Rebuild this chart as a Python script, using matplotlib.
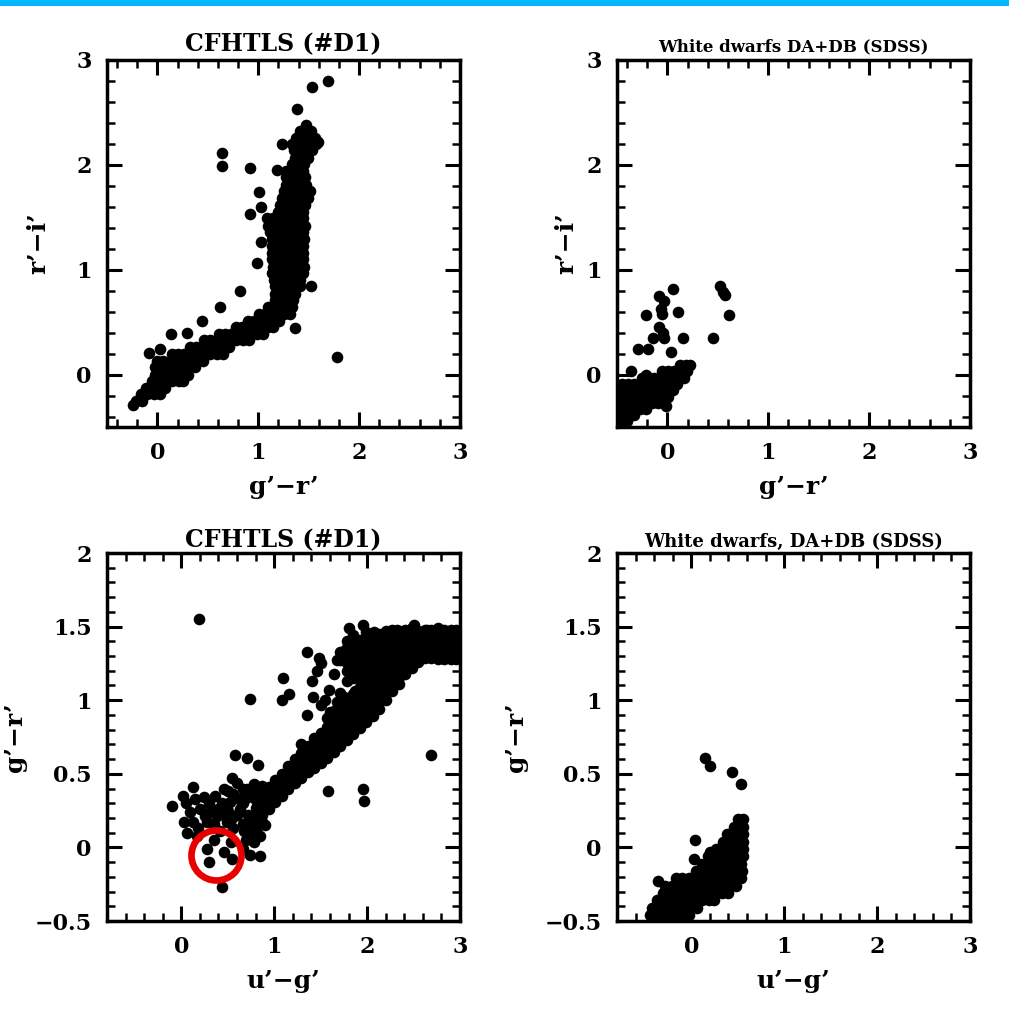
import matplotlib
matplotlib.use("Agg")
import matplotlib.pyplot as plt
from matplotlib.patches import Rectangle
from matplotlib.ticker import FixedLocator, FixedFormatter, MultipleLocator

plt.rcParams['font.family'] = ['DejaVu Serif', 'DejaVu Sans']
plt.rcParams['font.weight'] = 'bold'

# ---------------- data ----------------
# panel 1: CFHTLS, g'-r' vs r'-i'   rows of (r'-i', [g'-r' ...])
cfhtls_gri_rows = [
    (2.38, [1.47]),
    (2.32, [1.41, 1.47, 1.52]),
    (2.26, [1.37, 1.44, 1.50, 1.56]),
    (2.20, [1.33, 1.40, 1.46, 1.52, 1.57]),
    (2.14, [1.35, 1.42, 1.48, 1.53]),
    (2.07, [1.36, 1.42, 1.49]),
    (2.01, [1.33, 1.39, 1.45]),
    (1.94, [1.27, 1.33, 1.39, 1.44]),
    (1.88, [1.27, 1.33, 1.40, 1.46]),
    (1.81, [1.27, 1.33, 1.40, 1.47]),
    (1.75, [1.25, 1.31, 1.38, 1.44, 1.51]),
    (1.68, [1.24, 1.30, 1.37, 1.43, 1.49]),
    (1.62, [1.22, 1.28, 1.35, 1.41, 1.46]),
    (1.55, [1.20, 1.27, 1.33, 1.40, 1.44]),
    (1.49, [1.09, 1.15, 1.21, 1.28, 1.34, 1.40, 1.44]),
    (1.42, [1.10, 1.16, 1.23, 1.29, 1.36, 1.42, 1.46]),
    (1.36, [1.12, 1.18, 1.25, 1.31, 1.38, 1.44]),
    (1.29, [1.14, 1.20, 1.27, 1.33, 1.39, 1.45]),
    (1.23, [1.14, 1.20, 1.27, 1.33, 1.39, 1.44]),
    (1.16, [1.14, 1.20, 1.27, 1.33, 1.39, 1.44]),
    (1.10, [1.14, 1.20, 1.27, 1.33, 1.39, 1.44]),
    (1.03, [1.15, 1.21, 1.28, 1.34, 1.40, 1.45]),
    (0.97, [1.14, 1.20, 1.27, 1.33, 1.39, 1.44]),
    (0.90, [1.16, 1.22, 1.29, 1.35, 1.41]),
    (0.84, [1.17, 1.23, 1.30, 1.36, 1.41]),
    (0.77, [1.17, 1.23, 1.30, 1.36]),
    (0.71, [1.17, 1.23, 1.29, 1.34]),
    (0.64, [1.10, 1.16, 1.22, 1.28, 1.33]),
    (0.58, [1.01, 1.07, 1.13, 1.19, 1.25, 1.31]),
    (0.51, [0.90, 0.96, 1.02, 1.09, 1.15, 1.21]),
    (0.45, [0.78, 0.84, 0.90, 0.97, 1.03, 1.10, 1.15]),
    (0.39, [0.61, 0.67, 0.73, 0.80, 0.86, 0.93, 0.99, 1.05]),
    (0.33, [0.46, 0.52, 0.59, 0.65, 0.72, 0.78, 0.85, 0.91]),
    (0.26, [0.32, 0.38, 0.45, 0.51, 0.58, 0.64, 0.71]),
    (0.20, [0.14, 0.20, 0.26, 0.33, 0.39, 0.46, 0.52, 0.59, 0.65]),
    (0.13, [0.00, 0.06, 0.13, 0.19, 0.26, 0.32, 0.39, 0.45]),
    (0.07, [-0.02, 0.04, 0.11, 0.17, 0.24, 0.30, 0.37]),
    (0.00, [-0.02, 0.04, 0.11, 0.17, 0.24, 0.30]),
    (-0.06, [-0.05, 0.01, 0.08, 0.14, 0.21, 0.25]),
    (-0.13, [-0.11, -0.05, 0.02, 0.08]),
    (-0.19, [-0.16, -0.10, -0.03, 0.03]),
    (-0.25, [-0.21, -0.15]),
]
cfhtls_gri_single = [
    (1.69, 2.80), (1.53, 2.74), (1.38, 2.53), (0.645, 2.11), (0.64, 1.99),
    (0.92, 1.97), (1.01, 1.74), (1.03, 1.60), (0.92, 1.53), (1.03, 1.26),
    (0.99, 1.06), (0.82, 0.80), (0.62, 0.64), (0.44, 0.51), (0.29, 0.40),
    (0.13, 0.39), (1.36, 0.44), (1.78, 0.17), (1.52, 0.84), (-0.24, -0.29),
    (1.24, 2.20), (-0.08, 0.21), (0.03, 0.24), (1.59, 2.22), (1.19, 1.95),
]

# panel 2: white dwarfs, g'-r' vs r'-i'
wd_gri_rows = [
    (0.09, [0.12, 0.18, 0.22]),
    (0.03, [-0.05, 0.01, 0.07, 0.13, 0.19]),
    (-0.03, [-0.25, -0.19, -0.13, -0.07, -0.01, 0.05, 0.11, 0.16]),
    (-0.09, [-0.45, -0.39, -0.33, -0.27, -0.21, -0.15, -0.09, -0.03, 0.03, 0.09]),
    (-0.15, [-0.45, -0.39, -0.33, -0.27, -0.21, -0.15, -0.09, -0.03, 0.03, 0.06]),
    (-0.21, [-0.45, -0.39, -0.33, -0.27, -0.21, -0.15, -0.09, -0.03, 0.01]),
    (-0.27, [-0.45, -0.39, -0.33, -0.27, -0.21, -0.15, -0.09]),
    (-0.33, [-0.45, -0.39, -0.33, -0.27, -0.21]),
    (-0.39, [-0.45, -0.39, -0.33]),
    (-0.44, [-0.45, -0.40]),
]
wd_gri_single = [
    (0.06, 0.82), (-0.08, 0.75), (-0.03, 0.70), (-0.06, 0.63), (-0.05, 0.58),
    (0.10, 0.60), (-0.21, 0.57), (-0.08, 0.45), (-0.04, 0.40), (-0.14, 0.35),
    (-0.03, 0.35), (0.155, 0.35), (-0.29, 0.24), (-0.19, 0.24), (0.04, 0.22),
    (0.52, 0.84), (0.55, 0.79), (0.57, 0.76), (0.61, 0.57), (0.454, 0.35),
    (-0.01, -0.30), (-0.36, 0.03), (-0.21, 0.00),
]

# panel 3: CFHTLS, u'-g' vs g'-r'   columns of (u'-g', [g'-r' ...])
cfhtls_ugr_cols = [
    (0.80, [0.12, 0.17, 0.22, 0.27, 0.32, 0.37, 0.40]),
    (0.87, [0.17, 0.22, 0.27, 0.32, 0.37, 0.42]),
    (0.94, [0.26, 0.31, 0.36, 0.41]),
    (1.01, [0.31, 0.36, 0.41, 0.46]),
    (1.08, [0.35, 0.40, 0.45, 0.50]),
    (1.15, [0.40, 0.45, 0.50, 0.55]),
    (1.22, [0.44, 0.49, 0.54, 0.60]),
    (1.29, [0.47, 0.52, 0.57, 0.62, 0.64]),
    (1.36, [0.51, 0.56, 0.61, 0.66, 0.69]),
    (1.43, [0.54, 0.59, 0.64, 0.69, 0.74]),
    (1.50, [0.57, 0.62, 0.67, 0.72, 0.78]),
    (1.57, [0.61, 0.66, 0.71, 0.76, 0.82]),
    (1.64, [0.65, 0.70, 0.75, 0.80, 0.86]),
    (1.71, [0.69, 0.74, 0.79, 0.84, 0.91, 0.96, 1.27, 1.33]),
    (1.78, [0.73, 0.78, 0.83, 0.88, 0.95, 1.00, 1.20, 1.25, 1.30, 1.40]),
    (1.85, [0.77, 0.82, 0.87, 0.92, 0.99, 1.04, 1.15, 1.20, 1.25, 1.30,
            1.35, 1.44]),
    (1.92, [0.81, 0.86, 0.91, 0.96, 1.01, 1.04, 1.09, 1.14, 1.20, 1.25,
            1.30, 1.36, 1.41]),
    (1.99, [0.85, 0.90, 0.95, 1.00, 1.05, 1.10, 1.15, 1.20, 1.25, 1.30,
            1.35, 1.41, 1.46]),
    (2.06, [0.89, 0.94, 0.99, 1.04, 1.09, 1.14, 1.19, 1.24, 1.29, 1.34,
            1.40]),
    (2.13, [0.94, 0.99, 1.04, 1.09, 1.14, 1.19, 1.25, 1.30, 1.35, 1.40,
            1.45]),
    (2.20, [1.00, 1.05, 1.10, 1.15, 1.20, 1.25, 1.32, 1.37, 1.42, 1.47]),
    (2.27, [1.06, 1.11, 1.16, 1.21, 1.26, 1.31, 1.38, 1.43, 1.48]),
    (2.34, [1.11, 1.16, 1.21, 1.26, 1.31, 1.36, 1.42, 1.47]),
    (2.41, [1.18, 1.23, 1.28, 1.33, 1.38, 1.44, 1.48]),
    (2.48, [1.22, 1.27, 1.32, 1.37, 1.42, 1.46, 1.49]),
    (2.55, [1.26, 1.31, 1.36, 1.41, 1.47]),
    (2.62, [1.29, 1.34, 1.39, 1.44, 1.48]),
    (2.69, [1.29, 1.34, 1.39, 1.44, 1.48]),
    (2.76, [1.28, 1.33, 1.38, 1.43, 1.49]),
    (2.83, [1.28, 1.33, 1.38, 1.43, 1.48]),
    (2.90, [1.28, 1.33, 1.38, 1.43, 1.48]),
    (2.96, [1.28, 1.33, 1.38, 1.43, 1.48]),
]
cfhtls_ugr_single = [
    (0.19, 1.55), (0.74, 1.01), (1.09, 1.15), (1.16, 1.04), (1.08, 1.00),
    (1.35, 1.33), (1.48, 1.29), (1.50, 1.25), (1.41, 1.13), (1.42, 1.02),
    (1.35, 0.90), (1.50, 0.97), (1.60, 0.92), (1.68, 0.99), (1.59, 1.07),
    (1.64, 1.18), (1.68, 1.27), (1.77, 1.35), (1.80, 1.49), (1.86, 1.39),
    (1.93, 1.31), (1.78, 1.13), (1.75, 1.02), (1.87, 1.06), (1.96, 1.51),
    (2.07, 1.46), (2.03, 1.38), (2.18, 1.43), (2.14, 1.31), (2.32, 1.48),
    (2.50, 1.51), (2.64, 1.48), (2.69, 0.63), (1.58, 0.38), (1.96, 0.40),
    (1.97, 0.315), (0.58, 0.63), (0.71, 0.61), (0.83, 0.56),
    (-0.10, 0.28), (0.02, 0.35), (0.125, 0.41), (0.24, 0.345), (0.20, 0.26),
    (0.09, 0.24), (0.025, 0.17), (0.13, 0.17), (0.06, 0.10), (0.17, 0.08),
    (0.28, 0.17), (0.31, 0.24), (0.38, 0.21), (0.44, 0.30), (0.46, 0.40),
    (0.545, 0.47), (0.56, 0.36), (0.60, 0.22), (0.49, 0.17), (0.42, 0.11),
    (0.56, 0.13), (0.67, 0.11), (0.635, 0.26), (0.71, 0.40), (0.78, 0.43),
    (0.66, 0.16), (0.66, 0.30), (0.72, 0.22), (0.72, 0.34), (0.72, 0.10),
    (0.66, 0.40), (0.905, 0.15), (0.78, 0.04), (0.74, -0.05), (0.85, -0.06),
    (0.28, -0.01), (0.35, 0.05), (0.30, -0.10), (0.46, -0.03), (0.55, -0.08),
    (0.44, -0.27), (0.53, 0.04), (1.57, 0.88), (1.64, 0.93), (1.71, 1.05),
    (1.46, 1.20), (1.55, 1.00), (1.29, 0.70),
    (0.05, 0.30), (0.15, 0.33), (0.30, 0.30), (0.36, 0.35), (0.40, 0.26),
    (0.50, 0.25), (0.52, 0.31), (0.25, 0.21), (0.18, 0.13), (0.35, 0.16),
    (0.46, 0.22), (0.55, 0.20), (0.62, 0.33), (0.70, 0.05), (0.80, 0.10),
    (0.66, -0.01), (0.76, 0.16), (0.85, 0.08), (0.50, 0.38), (0.60, 0.44),
]

# panel 4: white dwarfs, u'-g' vs g'-r'
wd_ugr_rows = [
    (0.19, [0.50, 0.56]),
    (0.14, [0.46, 0.52, 0.56]),
    (0.09, [0.38, 0.44, 0.50, 0.56]),
    (0.04, [0.34, 0.41, 0.48, 0.56]),
    (-0.01, [0.27, 0.34, 0.41, 0.48, 0.56]),
    (-0.06, [0.18, 0.25, 0.32, 0.39, 0.46, 0.53, 0.56]),
    (-0.11, [0.12, 0.19, 0.26, 0.33, 0.40, 0.47, 0.54]),
    (-0.16, [0.05, 0.12, 0.19, 0.26, 0.33, 0.40, 0.47, 0.55]),
    (-0.21, [-0.17, -0.10, -0.03, 0.04, 0.11, 0.18, 0.25, 0.32, 0.39, 0.46, 0.53]),
    (-0.26, [-0.28, -0.21, -0.14, -0.07, 0.00, 0.07, 0.14, 0.21, 0.28, 0.35, 0.42, 0.48]),
    (-0.31, [-0.30, -0.23, -0.16, -0.09, -0.02, 0.05, 0.12, 0.19, 0.26, 0.33, 0.40]),
    (-0.36, [-0.37, -0.30, -0.23, -0.16, -0.09, -0.02, 0.05, 0.12, 0.19, 0.24]),
    (-0.41, [-0.42, -0.35, -0.28, -0.21, -0.14, -0.07, 0.00, 0.06]),
    (-0.46, [-0.44, -0.37, -0.30, -0.23, -0.16, -0.09, -0.02]),
]
wd_ugr_single = [
    (0.147, 0.605), (0.20, 0.55), (0.435, 0.514), (0.54, 0.43),
    (0.04, 0.05), (0.03, -0.08), (-0.355, -0.23), (0.20, -0.03),
]

circle_xy = (0.37, -0.05)

top_xticks = [0, 1, 2, 3]
top_yticks = [0, 1, 2, 3]
bot_xticks = [0, 1, 2, 3]
bot_yticks = [-0.5, 0, 0.5, 1, 1.5, 2]
bot_ylabels = ['\u22120.5', '0', '0.5', '1', '1.5', '2']


def rows_to_xy(rows):
    xs, ys = [], []
    for y, xl in rows:
        for x in xl:
            xs.append(x)
            ys.append(y)
    return xs, ys


def cols_to_xy(cols):
    xs, ys = [], []
    for x, yl in cols:
        for y in yl:
            xs.append(x)
            ys.append(y)
    return xs, ys


def add_single(xs, ys, pts):
    for x, y in pts:
        xs.append(x)
        ys.append(y)
    return xs, ys


fig = plt.figure(figsize=(10.09, 10.22), dpi=100)
fig.add_artist(Rectangle((0, 1 - 6 / 1022), 1, 6 / 1022, transform=fig.transFigure,
                         facecolor='#00b8ff', edgecolor='none'))

W = 353 / 1009
ax1 = fig.add_axes([107 / 1009, (1022 - 427) / 1022, W, 367 / 1022])
ax2 = fig.add_axes([617 / 1009, (1022 - 427) / 1022, W, 367 / 1022])
ax3 = fig.add_axes([107 / 1009, (1022 - 921) / 1022, W, 368 / 1022])
ax4 = fig.add_axes([617 / 1009, (1022 - 921) / 1022, W, 368 / 1022])

x1, y1 = add_single(*rows_to_xy(cfhtls_gri_rows), cfhtls_gri_single)
x2, y2 = add_single(*rows_to_xy(wd_gri_rows), wd_gri_single)
x3, y3 = add_single(*cols_to_xy(cfhtls_ugr_cols), cfhtls_ugr_single)
x4, y4 = add_single(*rows_to_xy(wd_ugr_rows), wd_ugr_single)

panels = [
    (ax1, x1, y1, (-0.5, 3), (-0.5, 3), top_xticks, top_yticks, ['0', '1', '2', '3'],
     0.2, 0.2, 'CFHTLS (#D1)', 17, 6, "g\u2019\u2212r\u2019", "r\u2019\u2212i\u2019", -0.195),
    (ax2, x2, y2, (-0.5, 3), (-0.5, 3), top_xticks, top_yticks, ['0', '1', '2', '3'],
     0.2, 0.2, 'White dwarfs DA+DB (SDSS)', 12, 6, "g\u2019\u2212r\u2019", "r\u2019\u2212i\u2019", -0.145),
    (ax3, x3, y3, (-0.8, 3), (-0.5, 2), bot_xticks, bot_yticks, bot_ylabels,
     0.2, 0.1, 'CFHTLS (#D1)', 17, 4, "u\u2019\u2212g\u2019", "g\u2019\u2212r\u2019", -0.26),
    (ax4, x4, y4, (-0.8, 3), (-0.5, 2), bot_xticks, bot_yticks, bot_ylabels,
     0.2, 0.1, 'White dwarfs, DA+DB (SDSS)', 13, 4, "u\u2019\u2212g\u2019", "g\u2019\u2212r\u2019", -0.285),
]

for (ax, xs, ys, xl, yl, xt, yt, ylab, xmin_step, ymin_step,
     title, tsize, tpad, xlabel, ylabel, ylx) in panels:
    ax.scatter(xs, ys, s=70, c='k', linewidths=0)
    ax.set_xlim(*xl)
    ax.set_ylim(*yl)
    ax.xaxis.set_major_locator(FixedLocator(xt))
    ax.xaxis.set_major_formatter(FixedFormatter([str(v) for v in xt]))
    ax.yaxis.set_major_locator(FixedLocator(yt))
    ax.yaxis.set_major_formatter(FixedFormatter(ylab))
    ax.xaxis.set_minor_locator(MultipleLocator(xmin_step))
    ax.yaxis.set_minor_locator(MultipleLocator(ymin_step))
    ax.tick_params(which='both', direction='in', top=True, right=True)
    ax.tick_params(which='major', length=11, width=2.2, labelsize=16, pad=11)
    ax.tick_params(which='minor', length=6, width=1.8)
    for lab in ax.get_xticklabels() + ax.get_yticklabels():
        lab.set_fontweight('bold')
    for sp in ax.spines.values():
        sp.set_linewidth(2.5)
    ax.set_title(title, fontsize=tsize, fontweight='bold', pad=tpad)
    ax.set_xlabel(xlabel, fontsize=18, fontweight='bold', va='top')
    ax.xaxis.set_label_coords(0.5, -0.13)
    ax.set_ylabel(ylabel, fontsize=18, fontweight='bold', va='center')
    ax.yaxis.set_label_coords(ylx, 0.5)

ax3.plot(circle_xy[0], circle_xy[1], marker='o', ms=36, mfc='none',
         mec='#e80000', mew=4.8, clip_on=False)

fig.savefig('out.png', dpi=100)
